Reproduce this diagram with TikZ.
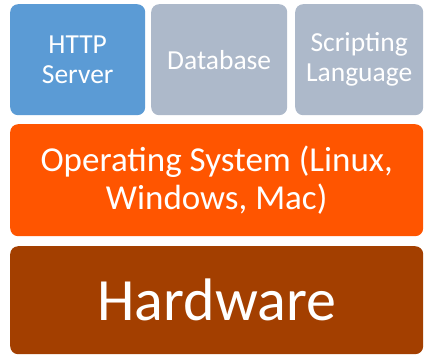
\documentclass[tikz,border=0pt]{standalone}
\usepackage{fontspec}
\setmainfont{Carlito}
\definecolor{serverblue}{HTML}{5B9BD5}
\definecolor{stackgrey}{HTML}{ADB9CA}
\definecolor{osorange}{HTML}{FF5500}
\definecolor{hwbrown}{HTML}{A33F00}
\tikzset{
layer/.style={
	  rounded corners=8pt, inner sep=0pt, anchor=north west,
	    align=center, text=white},
app/.style={layer, minimum height=111pt,
	  font=\fontsize{27.5}{30}\selectfont}
}

\begin{document}
\begin{tikzpicture}[x=1pt, y=-1pt]
	\useasboundingbox (0,0) rectangle (425,354);
	% applications on top
	\node[app, fill=serverblue, minimum width=135pt] (http) at (10,4) {HTTP\\Server};
	\node[app, fill=stackgrey, minimum width=136pt] (db) at (151,4) {Database};
	\node[app, fill=stackgrey, minimum width=128pt] (script) at (295,4) {Scripting\\Language};
	% operating system
	\node[layer, fill=osorange, minimum width=413pt, minimum height=112pt,
		font=\fontsize{35}{38}\selectfont] (os) at (10,124) {Operating System (Linux,\\Windows, Mac)};
	% hardware
	\node[layer, fill=hwbrown, minimum width=413pt, minimum height=108pt,
		font=\fontsize{60}{66}\selectfont] (hw) at (10,246) {Hardware};
\end{tikzpicture}
\end{document}
